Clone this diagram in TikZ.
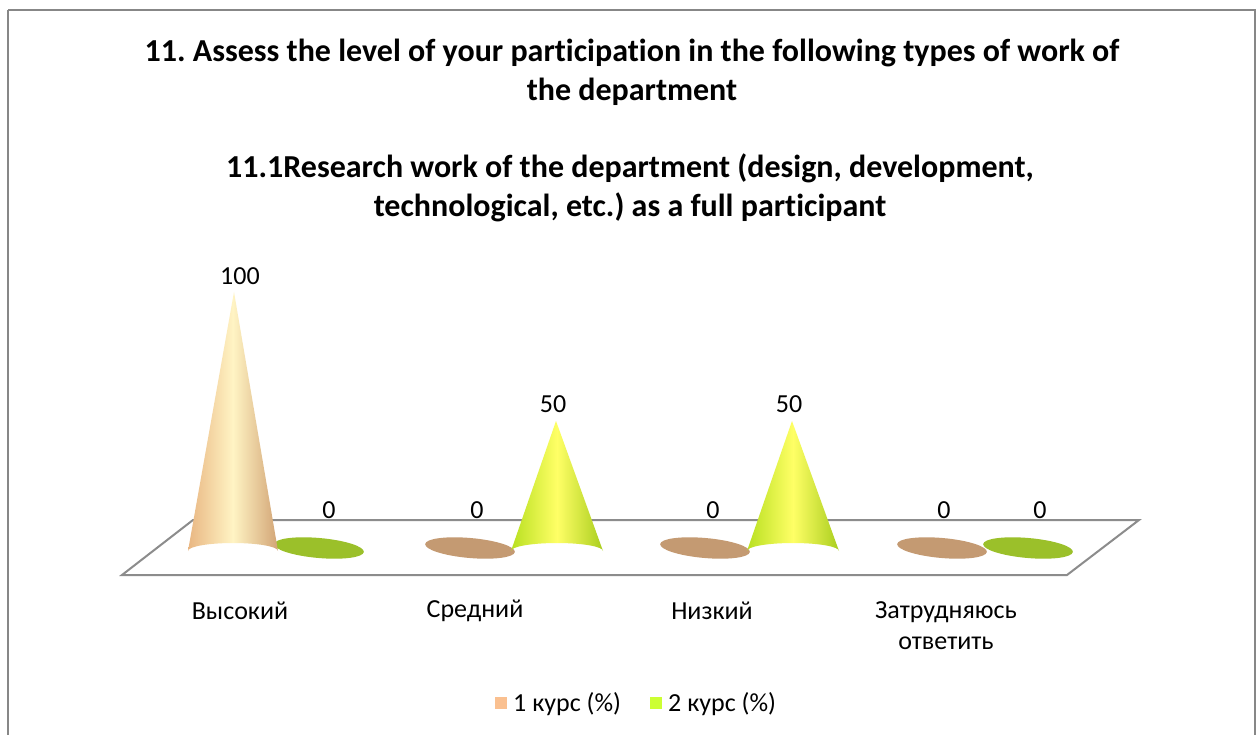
\documentclass[tikz,border=0pt]{standalone}
\usepackage{fontspec}
\setmainfont{Carlito}[Ligatures={NoCommon}]
\frenchspacing
\begin{document}
\begin{tikzpicture}[x=1pt,y=-1pt,
  titlefont/.style={font=\fontsize{32}{39}\selectfont\bfseries, align=center},
  lbl/.style={font=\fontsize{26}{30}\selectfont, inner sep=0pt},
  frame/.style={draw=black!47, line width=2pt},
  floor/.style={draw=black!45, line width=2pt, fill=white, line join=miter},
  flatA/.style={fill=flatOne, draw=none},
  flatB/.style={fill=flatTwo, draw=none},
  coneA/.style={left color=coneOneEdge, right color=coneOneEdge!90!black, middle color=coneOneMid, draw=none},
  coneB/.style={left color=coneTwoEdge, right color=coneTwoEdge!92!black, middle color=coneTwoMid, draw=none},
  legbox/.style={minimum size=12pt, inner sep=0pt}
]
\definecolor{flatOne}{HTML}{C49A72}
\definecolor{flatTwo}{HTML}{9BC02A}
\definecolor{coneOneEdge}{HTML}{E9B682}
\definecolor{coneOneMid}{HTML}{FFF4C4}
\definecolor{coneTwoEdge}{HTML}{B8E020}
\definecolor{coneTwoMid}{HTML}{FFFF66}
\definecolor{legOne}{HTML}{FAC090}
\definecolor{legTwo}{HTML}{CCFF33}

\useasboundingbox (0,0) rectangle (1258,735);
\fill[white] (0,0) rectangle (1258,735);
\draw[frame] (8,10) -- (8,745) (8,10) -- (1255,10) -- (1255,745);

% titles
\node[titlefont] (t1) at (632,72) {11. Assess the level of your participation in the following types of work of\\the department};
\node[titlefont] (t2) at (630,188) {11.1Research work of the department (design, development,\\technological, etc.) as a full participant};

% floor
\coordinate (fbl) at (193,520);
\coordinate (fbr) at (1139,520);
\coordinate (ffr) at (1067,575);
\coordinate (ffl) at (122,575);
\draw[floor] (fbl) -- (fbr) -- (ffr) -- (ffl) -- cycle;

% flat discs (zero values)
\fill[flatB, rotate around={-5:(319,548)}] (319,548) ellipse[x radius=45, y radius=10];
\fill[flatA, rotate around={-5:(470,548)}] (470,548) ellipse[x radius=45, y radius=10];
\fill[flatA, rotate around={-5:(705,548)}] (705,548) ellipse[x radius=45, y radius=10];
\fill[flatA, rotate around={-5:(942,548)}] (942,548) ellipse[x radius=45, y radius=10];
\fill[flatB, rotate around={-5:(1028,548)}] (1028,548) ellipse[x radius=45, y radius=10];

% cones
\shade[coneA] (234,292) -- (188,551) arc[start angle=180, end angle=360, x radius=45, y radius=8] -- cycle;
\shade[coneB] (556,421) -- (511,551) arc[start angle=180, end angle=360, x radius=46, y radius=8] -- cycle;
\shade[coneB] (792,421) -- (747,551) arc[start angle=180, end angle=360, x radius=46, y radius=8] -- cycle;

% value labels
\node[lbl] (v1) at (240,276) {100};
\node[lbl] (v2) at (329,510) {0};
\node[lbl] (v3) at (477,510) {0};
\node[lbl] (v4) at (553,404) {50};
\node[lbl] (v5) at (713,510) {0};
\node[lbl] (v6) at (789,404) {50};
\node[lbl] (v7) at (944,510) {0};
\node[lbl] (v8) at (1040,510) {0};

% category labels
\node[lbl] (c1) at (240,611) {Высокий};
\node[lbl] (c2) at (475,611) {Средний};
\node[lbl] (c3) at (712,611) {Низкий};
\node[lbl, align=center, font=\fontsize{26}{31}\selectfont] (c4) at (946,626) {Затрудняюсь\\ответить};

% legend
\node[legbox, fill=legOne] (l1) at (501,703) {};
\node[lbl, anchor=west] (l1t) at (513,704) {1 курс (\%)};
\node[legbox, fill=legTwo] (l2) at (656,703) {};
\node[lbl, anchor=west] (l2t) at (668,704) {2 курс (\%)};
\end{tikzpicture}
\end{document}
